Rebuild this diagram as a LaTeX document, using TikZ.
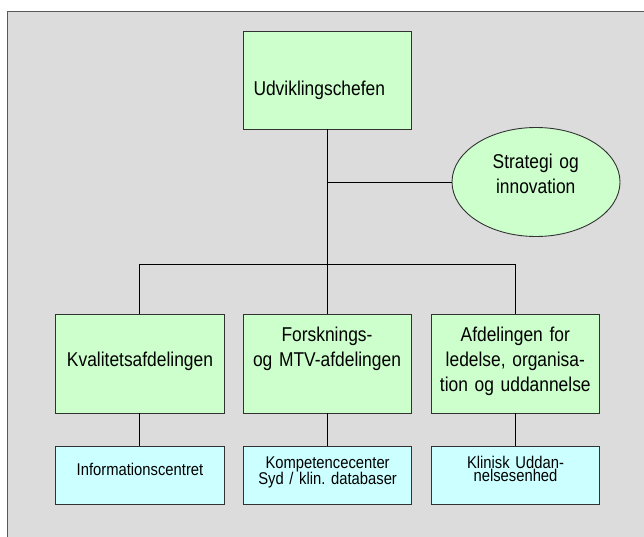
\documentclass[tikz,border=0pt]{standalone}
\usepackage{fontspec}
\setmainfont{Liberation Sans}[FakeStretch=0.87]
\usetikzlibrary{shapes.geometric}
\frenchspacing
\definecolor{bggrey}{RGB}{220,220,220}
\definecolor{boxgreen}{RGB}{204,255,204}
\definecolor{boxblue}{RGB}{204,255,255}
\definecolor{edge}{RGB}{50,50,50}
\tikzset{
  greenbox/.style={draw=edge, line width=0.9pt, fill=boxgreen, minimum width=168.5pt, minimum height=99pt, inner sep=0pt},
  bluebox/.style={draw=edge, line width=0.9pt, fill=boxblue, minimum width=168.5pt, minimum height=57.6pt, inner sep=0pt},
  biglabel/.style={anchor=base, inner sep=0pt, text width=165pt, align=center, font=\fontsize{20}{25}\selectfont\frenchspacing},
  smalllabel/.style={anchor=base, inner sep=0pt, text width=165pt, align=center, font=\fontsize{17}{13.6}\selectfont\frenchspacing},
  conn/.style={draw=black, line width=0.9pt}
}
\begin{document}
\begin{tikzpicture}[x=1pt,y=-1pt]
\useasboundingbox (0,0) rectangle (644,537);
\fill[white] (0,0) rectangle (644,537);
\draw[draw=black!65, line width=1.3pt, fill=bggrey] (7.7,11.3) rectangle (650,545);

% boxes
\node[greenbox, minimum height=98pt] (top) at (327.6,80) {};
\node[draw=edge, line width=0.9pt, fill=boxgreen, ellipse, minimum width=168pt, minimum height=109pt, inner sep=0pt] (ell) at (536,182) {};

\node[greenbox] (g1) at (139.8,363.5) {};
\node[greenbox] (g2) at (327.6,363.5) {};
\node[greenbox] (g3) at (515.3,363.5) {};

\node[bluebox] (b1) at (139.8,475.5) {};
\node[bluebox] (b2) at (327.6,475.5) {};
\node[bluebox] (b3) at (515.3,475.5) {};

% labels
\node[anchor=base west, inner sep=0pt, font=\fontsize{20}{25}\selectfont] (ttop) at (253.3,95.7) {Udviklingschefen};
\node[biglabel] (tell) at (535.7,169) {Strategi og\\innovation};
\node[biglabel] (tg1) at (140,366.7) {Kvalitetsafdelingen};
\node[biglabel] (tg2) at (327,341.7) {Forsknings-\\og MTV-afdelingen};
\node[biglabel] (tg3) at (515.3,341.7) {Afdelingen for\\ledelse, organisa-\\tion og uddannelse};
\node[smalllabel] (tb1) at (140,475) {Informationscentret};
\node[smalllabel] (tb2) at (327.6,468.1) {Kompetencecenter\\Syd / klin. databaser};
\node[smalllabel] (tb3) at (515.5,468.1) {Klinisk Uddan-\\nelsesenhed};

% connectors
\coordinate (busy) at (0,264.3);
\coordinate (j) at (top.south |- ell.west);
\draw[conn] (top.south) -- (g2.north);
\draw[conn] (j) -- (ell.west);
\draw[conn] (g1.north) -- (g1.north |- busy) -- (g3.north |- busy) -- (g3.north);
\draw[conn] (g1.south) -- (b1.north);
\draw[conn] (g2.south) -- (b2.north);
\draw[conn] (g3.south) -- (b3.north);
\end{tikzpicture}
\end{document}
